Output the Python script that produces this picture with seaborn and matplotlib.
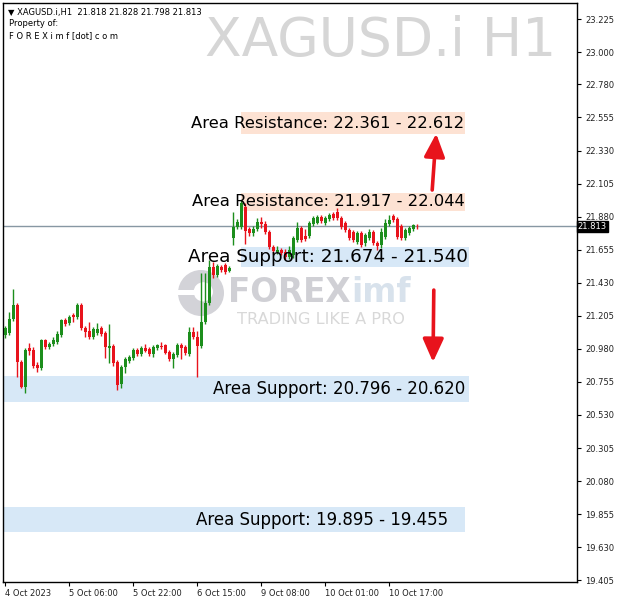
import numpy as np
import pandas as pd
import matplotlib
matplotlib.use("Agg")
import matplotlib.pyplot as plt
from matplotlib.patches import Rectangle, Circle, ArrowStyle
import seaborn as sns

# ---------------- data (XAGUSD.i, H1) ----------------
open_ = [21.074, 21.088, 21.183, 21.278, 20.890, 20.720, 20.986, 20.972, 20.870, 20.850,
         21.040, 20.992, 21.013, 21.026, 21.074, 21.176, 21.156, 21.210, 21.196, 21.278,
         21.122, 21.101, 21.060, 21.088, 21.122, 21.088, 20.986, 20.999, 20.890, 20.741,
         20.856, 20.897, 20.918, 20.972, 20.945, 20.986, 20.979, 20.945, 20.986, 20.999,
         21.006, 20.958, 20.911, 20.938, 21.006, 20.992, 20.945, 21.094, 21.060, 20.999,
         21.162, 21.292, 21.536, 21.482, 21.536, 21.550, 21.509, 21.735, 21.809, 21.809,
         21.945, 21.796, 21.768, 21.796, 21.843, 21.830, 21.775, 21.673, 21.639, 21.653,
         21.639, 21.605, 21.619, 21.721, 21.802, 21.748, 21.748, 21.830, 21.836, 21.877,
         21.836, 21.864, 21.898, 21.911, 21.870, 21.836, 21.789, 21.775, 21.707, 21.768,
         21.701, 21.735, 21.775, 21.701, 21.687, 21.741, 21.830, 21.884, 21.864, 21.816,
         21.735, 21.768, 21.796, 21.818]
high = [21.135, 21.230, 21.387, 21.292, 20.904, 20.986, 21.020, 20.992, 20.890, 21.047,
        21.047, 21.026, 21.060, 21.101, 21.183, 21.190, 21.210, 21.224, 21.292, 21.292,
        21.135, 21.162, 21.128, 21.156, 21.135, 21.101, 21.149, 21.013, 20.904, 20.870,
        20.924, 20.938, 20.986, 20.986, 20.999, 21.013, 20.992, 21.006, 21.013, 21.026,
        21.013, 20.972, 20.958, 21.020, 21.020, 21.006, 21.128, 21.128, 21.101, 21.496,
        21.496, 21.584, 21.570, 21.557, 21.550, 21.564, 21.543, 21.911, 21.864, 21.993,
        21.973, 21.809, 21.816, 21.870, 21.877, 21.850, 21.789, 21.687, 21.680, 21.667,
        21.660, 21.680, 21.748, 21.843, 21.816, 21.796, 21.850, 21.884, 21.891, 21.891,
        21.884, 21.905, 21.911, 21.939, 21.884, 21.850, 21.802, 21.789, 21.782, 21.782,
        21.768, 21.796, 21.789, 21.714, 21.802, 21.864, 21.891, 21.898, 21.877, 21.830,
        21.802, 21.816, 21.830, 21.828]
low = [21.054, 21.074, 21.169, 20.788, 20.714, 20.680, 20.938, 20.850, 20.822, 20.836,
       20.979, 20.979, 20.999, 21.013, 21.060, 21.135, 21.142, 21.162, 21.183, 21.108,
       21.060, 21.047, 21.047, 21.074, 21.067, 20.918, 20.884, 20.863, 20.700, 20.714,
       20.816, 20.884, 20.904, 20.931, 20.931, 20.958, 20.931, 20.924, 20.972, 20.979,
       20.945, 20.897, 20.850, 20.924, 20.911, 20.938, 20.931, 21.047, 20.788, 20.986,
       21.149, 21.278, 21.462, 21.468, 21.502, 21.489, 21.502, 21.687, 21.796, 21.796,
       21.694, 21.748, 21.748, 21.782, 21.802, 21.762, 21.660, 21.626, 21.626, 21.619,
       21.592, 21.592, 21.598, 21.707, 21.707, 21.714, 21.735, 21.816, 21.830, 21.836,
       21.823, 21.850, 21.857, 21.857, 21.796, 21.775, 21.721, 21.707, 21.694, 21.673,
       21.680, 21.721, 21.687, 21.653, 21.667, 21.728, 21.816, 21.843, 21.728, 21.721,
       21.721, 21.755, 21.782, 21.798]
close = [21.122, 21.183, 21.278, 20.890, 20.720, 20.972, 20.965, 20.863, 20.850, 21.040,
         20.992, 21.013, 21.040, 21.081, 21.176, 21.149, 21.196, 21.196, 21.278, 21.122,
         21.094, 21.060, 21.115, 21.115, 21.081, 20.992, 20.999, 20.884, 20.734, 20.856,
         20.911, 20.924, 20.972, 20.945, 20.986, 20.965, 20.945, 20.992, 21.006, 20.992,
         20.952, 20.911, 20.945, 21.006, 20.986, 20.952, 21.094, 21.060, 20.999, 21.162,
         21.292, 21.536, 21.482, 21.543, 21.516, 21.502, 21.530, 21.809, 21.843, 21.973,
         21.782, 21.768, 21.796, 21.843, 21.830, 21.775, 21.673, 21.646, 21.653, 21.633,
         21.605, 21.653, 21.735, 21.802, 21.721, 21.728, 21.836, 21.870, 21.877, 21.850,
         21.870, 21.891, 21.870, 21.870, 21.809, 21.789, 21.735, 21.721, 21.768, 21.687,
         21.755, 21.775, 21.701, 21.680, 21.775, 21.836, 21.857, 21.857, 21.741, 21.735,
         21.789, 21.802, 21.823, 21.813]

xtick_idx = [0, 16, 32, 48, 64, 80, 96]
xtick_labels = ["4 Oct 2023", "5 Oct 06:00", "5 Oct 22:00", "6 Oct 15:00",
                "9 Oct 08:00", "10 Oct 01:00", "10 Oct 17:00"]
ytick_vals = [23.225, 23.000, 22.780, 22.555, 22.330, 22.105, 21.880, 21.655, 21.430,
              21.205, 20.980, 20.755, 20.530, 20.305, 20.080, 19.855, 19.630, 19.405]

zone_text = ["Area Resistance: 22.361 - 22.612", "Area Resistance: 21.917 - 22.044",
             "Area Support: 21.674 - 21.540", "Area Support: 20.796 - 20.620",
             "Area Support: 19.895 - 19.455"]
zone_kind = ["res", "res", "sup", "sup", "sup"]
zone_lo = [22.442, 21.917, 21.540, 20.620, 19.733]
zone_hi = [22.592, 22.044, 21.674, 20.796, 19.903]
zone_x0 = [59, 59, 59, -0.5, -0.5]
zone_x1 = [115, 115, 116, 116, 115]
zone_text_x = [114.8, 115.0, 115.8, 115.0, 110.8]
zone_fs = [11.8, 11.8, 13.2, 12.0, 12.0]

header = "XAGUSD.i,H1  21.818 21.828 21.798 21.813"

# ---------------- style ----------------
sns.set_theme(style="white")
plt.rcParams["font.family"] = ["DejaVu Sans"]
GREEN = "#1c8e1c"
RED = "#e8131c"
PINK = "#fde2d3"
BLUE = "#d7e8f7"

df = pd.DataFrame({"i": np.arange(len(open_)), "open": open_, "high": high,
                   "low": low, "close": close})
df["up"] = df["close"] >= df["open"]
df["color"] = np.where(df["up"], GREEN, RED)

fig = plt.figure(figsize=(6.2, 6.06), dpi=100, facecolor="white")
ax = fig.add_axes([3 / 620, 1 - 582 / 606, 574 / 620, 579 / 606])
ax.set_facecolor("white")

XMIN, XMAX = -0.5, 143
YMIN, YMAX = 19.393, 23.334
ax.set_xlim(XMIN, XMAX)
ax.set_ylim(YMIN, YMAX)

# watermarks (behind everything)
fig.text(556 / 620, 1 - 41 / 606, "XAGUSD.i H1", ha="right", va="center",
         fontsize=38.5, color="#d6d6d6", zorder=0)

logo_ax = fig.add_axes([178 / 620, 1 - 316 / 606, 46 / 620, 46 / 606], zorder=-1)
logo_ax.set_xlim(-1, 1); logo_ax.set_ylim(-1, 1); logo_ax.axis("off")
logo_ax.add_patch(Circle((0, 0), 1, facecolor="#d3d3d8", edgecolor="none"))
logo_ax.add_patch(Circle((0.1, 0.05), 0.42, facecolor="white", edgecolor="none"))
logo_ax.add_patch(Rectangle((-1, -0.1), 1.2, 0.22, facecolor="white", edgecolor="none"))
logo_ax.patch.set_alpha(0)
ax.set_zorder(1)
ax.patch.set_alpha(0)
fig.patch.set_facecolor("white")

# zones
for lo, hi, x0, x1, kind in zip(zone_lo, zone_hi, zone_x0, zone_x1, zone_kind):
    ax.add_patch(Rectangle((x0, lo), x1 - x0, hi - lo,
                           facecolor=PINK if kind == "res" else BLUE,
                           edgecolor="none", zorder=1))

# current price line (seaborn)
sns.lineplot(x=[XMIN, XMAX], y=[close[-1], close[-1]], color="#8797a3",
             lw=1, ax=ax, zorder=2)

# candles: wicks + bodies
ax.vlines(df["i"], df["low"], df["high"], colors=df["color"], lw=1.0, zorder=3)
body_lo = np.minimum(df["open"], df["close"])
body_h = np.maximum(np.abs(df["close"] - df["open"]), 0.004)
ax.bar(df["i"], body_h, bottom=body_lo, width=0.75, color=df["color"],
       edgecolor="none", zorder=4)

# zone texts
for txt, lo, hi, tx, fs in zip(zone_text, zone_lo, zone_hi, zone_text_x, zone_fs):
    ax.text(tx, (lo + hi) / 2, txt, ha="right", va="center", fontsize=fs,
            color="black", zorder=6)

# arrows
astyle = ArrowStyle("-|>", head_length=1.0, head_width=0.45)
ax.annotate("", xy=(107.8, 22.445), xytext=(106.8, 22.061),
            arrowprops=dict(arrowstyle=astyle, color=RED, lw=2.6,
                            mutation_scale=14, shrinkA=0, shrinkB=0), zorder=7)
ax.annotate("", xy=(107.0, 20.890), xytext=(107.2, 21.380),
            arrowprops=dict(arrowstyle=astyle, color=RED, lw=2.6,
                            mutation_scale=14, shrinkA=0, shrinkB=0), zorder=7)

# axes
for s in ax.spines.values():
    s.set_color("black")
    s.set_linewidth(1.0)
ax.yaxis.tick_right()
ax.set_yticks(ytick_vals)
ax.set_yticklabels([f"{v:.3f}" for v in ytick_vals], fontsize=6, color="#222222")
ax.set_xticks(xtick_idx)
ax.set_xticklabels(xtick_labels, fontsize=6, color="#222222", ha="left")
ax.tick_params(axis="y", which="both", right=True, left=False, length=3,
               width=0.8, color="black", pad=3, direction="out")
ax.tick_params(axis="x", which="both", bottom=True, length=3, width=0.8,
               color="black", pad=2, direction="out")
for lbl in ax.get_xticklabels():
    lbl.set_horizontalalignment("left")
ax.grid(False)
ax.set_xlabel("")
ax.set_ylabel("")

# current price tag
ax.text(1.0015, close[-1], f"{close[-1]:.3f}", transform=ax.get_yaxis_transform(),
        ha="left", va="center", fontsize=6, color="white", zorder=10,
        bbox=dict(boxstyle="square,pad=0.15", facecolor="black", edgecolor="black"),
        clip_on=False)

# logo text
t1 = fig.text(228 / 620, 1 - 293 / 606, "FOREX", ha="left", va="center",
              fontsize=23.5, fontweight="bold", color="#d0d0d5", zorder=0)
fig.canvas.draw()
bb = t1.get_window_extent()
fig.text(bb.x1 / fig.bbox.width + 0.002, 1 - 293 / 606, "imf", ha="left",
         va="center", fontsize=23.5, fontweight="bold", color="#d8e2ec", zorder=0)
fig.text(237 / 620, 1 - 319 / 606, "TRADING LIKE A PRO", ha="left", va="center",
         fontsize=11.6, color="#d8d8d8", zorder=0)

# header
fig.text(8 / 620, 1 - 12 / 606, "\u25BC " + header, ha="left", va="center",
         fontsize=6, color="black")
fig.text(9 / 620, 1 - 24 / 606, "Property of:", ha="left", va="center",
         fontsize=6, color="black")
fig.text(9 / 620, 1 - 36 / 606, "F O R E X i m f [dot] c o m", ha="left",
         va="center", fontsize=6, color="black")

fig.savefig("out.png", dpi=100, facecolor="white")
